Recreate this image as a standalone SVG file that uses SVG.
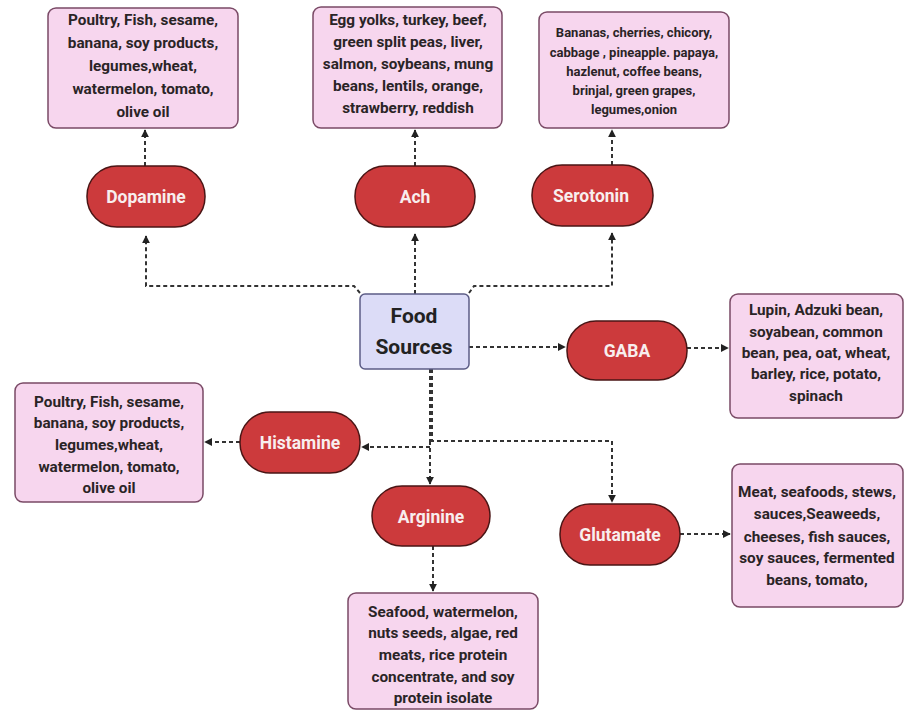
<svg xmlns="http://www.w3.org/2000/svg" width="904" height="711" viewBox="0 0 904 711">
<defs>
<marker id="ah" viewBox="0 0 10 10" refX="9" refY="5" markerWidth="8" markerHeight="8" markerUnits="userSpaceOnUse" orient="auto">
<path d="M0,0 L10,5 L0,10 z" fill="#222"/>
</marker>
<style>
.box{fill:#f7d6ee;stroke:#7a4a66;stroke-width:1.5}
.pill{fill:#cc3a3c;stroke:#4a1515;stroke-width:1.5}
.src{fill:#dcdcf7;stroke:#5c5c86;stroke-width:1.5}
.t{font-family:Roboto,"Liberation Sans",sans-serif;font-weight:bold;font-size:15.3px;fill:#2a2426;text-anchor:middle}
.ts{font-family:Roboto,"Liberation Sans",sans-serif;font-weight:bold;font-size:13px;fill:#2a2426;text-anchor:middle}
.p{font-family:Roboto,"Liberation Sans",sans-serif;font-weight:bold;font-size:17.5px;fill:#f8eeee;text-anchor:middle}
.f{font-family:Roboto,"Liberation Sans",sans-serif;font-weight:bold;font-size:21px;fill:#222;text-anchor:middle}
.c{fill:none;stroke:#333;stroke-width:2;stroke-dasharray:4 3}
.ca{fill:none;stroke:#333;stroke-width:2;stroke-dasharray:4 3;marker-end:url(#ah)}
</style>
</defs>
<rect width="904" height="711" fill="#ffffff"/>
<g id="connectors">
<path class="ca" d="M360 293 L354 286 L146 286 L146 236"/>
<path class="ca" d="M415 294 L415 234"/>
<path class="ca" d="M469 293 L474 286 L612 286 L612 233"/>
<path class="ca" d="M145 166 L145 130"/>
<path class="ca" d="M415 166 L415 130"/>
<path class="ca" d="M612 165 L612 130"/>
<path class="ca" d="M469 347 L565 347"/>
<path class="ca" d="M687 348 L728 348"/>
<path class="c" d="M430 369 L430 441" stroke-width="3"/>
<path class="c" d="M432 369 L432 441"/>
<path class="ca" d="M430 441 L612 441 L612 502"/>
<path class="ca" d="M430 447 L362 447"/>
<path class="ca" d="M430 441 L430 484"/>
<path class="ca" d="M240 442 L205 442"/>
<path class="ca" d="M433 546 L433 591"/>
<path class="ca" d="M680 534 L730 534"/>
</g>
<g id="food-sources">
<rect class="src" x="360" y="294" width="109" height="75" rx="5"/>
<text class="f" x="414" y="323">Food</text>
<text class="f" x="414" y="354">Sources</text>
</g>
<g id="dopamine">
<rect class="pill" x="87" y="166" width="118" height="61" rx="30"/>
<text class="p" x="146" y="203">Dopamine</text>
</g>
<g id="ach">
<rect class="pill" x="355" y="166" width="120" height="61" rx="30"/>
<text class="p" x="415" y="203">Ach</text>
</g>
<g id="serotonin">
<rect class="pill" x="532" y="165" width="121" height="61" rx="30"/>
<text class="p" x="591" y="202">Serotonin</text>
</g>
<g id="gaba">
<rect class="pill" x="567" y="321" width="120" height="59" rx="29"/>
<text class="p" x="627" y="357">GABA</text>
</g>
<g id="histamine">
<rect class="pill" x="240" y="412" width="120" height="61" rx="30"/>
<text class="p" x="300" y="449">Histamine</text>
</g>
<g id="arginine">
<rect class="pill" x="372" y="486" width="118" height="60" rx="30"/>
<text class="p" x="431" y="523">Arginine</text>
</g>
<g id="glutamate">
<rect class="pill" x="560" y="504" width="120" height="61" rx="30"/>
<text class="p" x="620" y="541">Glutamate</text>
</g>
<g id="dopamine-foods">
<rect class="box" x="48" y="8" width="190" height="120" rx="8"/>
<text class="t" x="143" y="25">Poultry, Fish, sesame,</text>
<text class="t" x="143" y="48">banana, soy products,</text>
<text class="t" x="143" y="71">legumes,wheat,</text>
<text class="t" x="143" y="94">watermelon, tomato,</text>
<text class="t" x="143" y="117">olive oil</text>
</g>
<g id="ach-foods">
<rect class="box" x="313" y="7" width="189" height="121" rx="8"/>
<text class="t" x="408" y="25">Egg yolks, turkey, beef,</text>
<text class="t" x="408" y="47">green split peas, liver,</text>
<text class="t" x="408" y="69">salmon, soybeans, mung</text>
<text class="t" x="408" y="91">beans, lentils, orange,</text>
<text class="t" x="408" y="113">strawberry, reddish</text>
</g>
<g id="serotonin-foods">
<rect class="box" x="539" y="12" width="190" height="116" rx="8"/>
<text class="ts" x="634" y="37">Bananas, cherries, chicory,</text>
<text class="ts" x="634" y="57">cabbage , pineapple. papaya,</text>
<text class="ts" x="634" y="76">hazlenut, coffee beans,</text>
<text class="ts" x="634" y="95">brinjal, green grapes,</text>
<text class="ts" x="634" y="114">legumes,onion</text>
</g>
<g id="gaba-foods">
<rect class="box" x="730" y="294" width="173" height="124" rx="8"/>
<text class="t" x="816" y="315">Lupin, Adzuki bean,</text>
<text class="t" x="816" y="337">soyabean, common</text>
<text class="t" x="816" y="358">bean, pea, oat, wheat,</text>
<text class="t" x="816" y="379">barley, rice, potato,</text>
<text class="t" x="816" y="401">spinach</text>
</g>
<g id="histamine-foods">
<rect class="box" x="15" y="383" width="188" height="119" rx="8"/>
<text class="t" x="109" y="407">Poultry, Fish, sesame,</text>
<text class="t" x="109" y="428">banana, soy products,</text>
<text class="t" x="109" y="450">legumes,wheat,</text>
<text class="t" x="109" y="472">watermelon, tomato,</text>
<text class="t" x="109" y="493">olive oil</text>
</g>
<g id="glutamate-foods">
<rect class="box" x="732" y="464" width="171" height="143" rx="8"/>
<text class="t" x="817" y="497">Meat, seafoods, stews,</text>
<text class="t" x="817" y="519">sauces,Seaweeds,</text>
<text class="t" x="817" y="542">cheeses, fish sauces,</text>
<text class="t" x="817" y="563">soy sauces, fermented</text>
<text class="t" x="817" y="585">beans, tomato,</text>
</g>
<g id="arginine-foods">
<rect class="box" x="348" y="593" width="190" height="116" rx="8"/>
<text class="t" x="443" y="617">Seafood, watermelon,</text>
<text class="t" x="443" y="638">nuts seeds, algae, red</text>
<text class="t" x="443" y="660">meats, rice protein</text>
<text class="t" x="443" y="682">concentrate, and soy</text>
<text class="t" x="443" y="703">protein isolate</text>
</g>
</svg>
